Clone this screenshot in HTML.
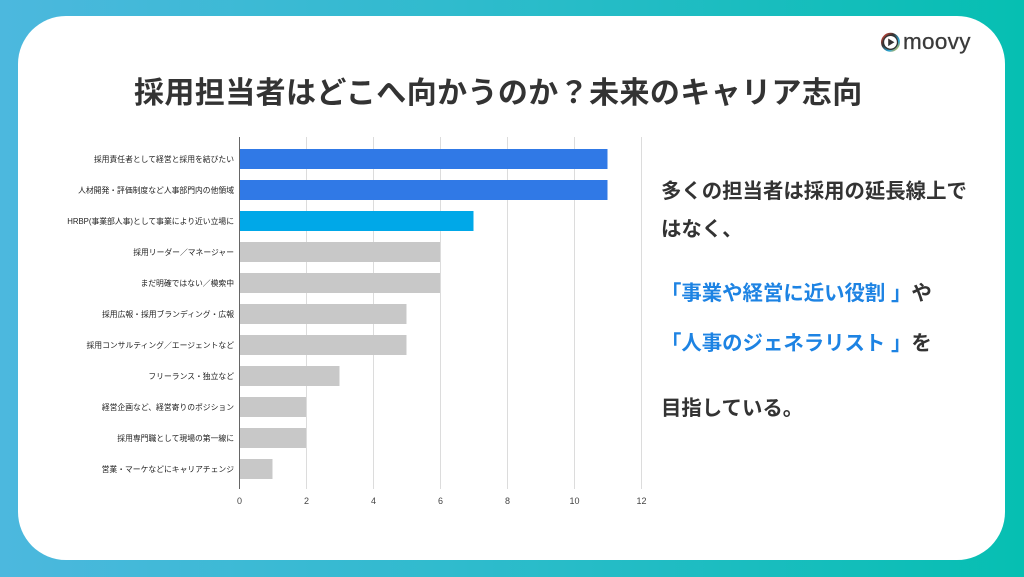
<!DOCTYPE html>
<html>
<head>
<meta charset="utf-8">
<style>
  html, body { margin:0; padding:0; }
  body {
    width:1024px; height:577px; overflow:hidden; position:relative;
    background: linear-gradient(90deg, #4cb8de 0%, #2fbbcd 45%, #06bfb2 100%);
    font-family: "Liberation Sans", "Noto Sans CJK JP", sans-serif;
  }
  .card {
    position:absolute; left:18px; top:16px; width:987px; height:544px;
    background:#fff; border-radius:48px;
  }
  .title {
    position:absolute; left:134px; top:76px; width:740px;
    font-size:30px; line-height:36px; font-weight:bold; color:#333;
    letter-spacing:0.4px; white-space:nowrap;
    font-family: "Liberation Sans", "Noto Sans CJK JP", sans-serif;
  }
  .logo-text {
    position:absolute; left:903px; top:28px; font-size:22.5px; line-height:28px;
    color:#3a3a3a; font-family:"Liberation Sans", sans-serif; letter-spacing:0.3px;
    -webkit-text-stroke:0.3px #3a3a3a;
  }
  .rt {
    position:absolute; left:661px; font-size:20.4px; line-height:22px; font-weight:bold;
    color:#333; white-space:nowrap;
    font-family: "Liberation Sans", "Noto Sans CJK JP", sans-serif;
  }
  .blue { color:#1d83e3; }
  svg { position:absolute; left:0; top:0; }
</style>
</head>
<body>
<div class="card"></div>

<svg width="1024" height="577" viewBox="0 0 1024 577">
  <defs>
    <linearGradient id="ring" x1="0" y1="0" x2="1" y2="1">
      <stop offset="0" stop-color="#e0483a"/>
      <stop offset="0.35" stop-color="#333"/>
      <stop offset="0.7" stop-color="#2aa7d8"/>
      <stop offset="1" stop-color="#e8b630"/>
    </linearGradient>
  </defs>
  <!-- logo icon -->
  <circle cx="890.5" cy="42.3" r="8.3" fill="none" stroke="url(#ring)" stroke-width="2.4"/>
  <circle cx="890.5" cy="42.3" r="7" fill="none" stroke="#333" stroke-width="1.3"/>
  <polygon points="888.2,38.5 888.2,46.1 894.4,42.3" fill="#333"/>

  <!-- gridlines -->
  <g stroke="#dcdcdc" stroke-width="1">
    <line x1="306.5" y1="137" x2="306.5" y2="489"/>
    <line x1="373.5" y1="137" x2="373.5" y2="489"/>
    <line x1="440.5" y1="137" x2="440.5" y2="489"/>
    <line x1="507.5" y1="137" x2="507.5" y2="489"/>
    <line x1="574.5" y1="137" x2="574.5" y2="489"/>
    <line x1="641.5" y1="137" x2="641.5" y2="489"/>
  </g>

  <!-- bars -->
  <g>
    <rect x="239" y="149" width="368.5" height="20" fill="#3079e6"/>
    <rect x="239" y="180" width="368.5" height="20" fill="#3079e6"/>
    <rect x="239" y="211" width="234.5" height="20" fill="#00a8e8"/>
    <rect x="239" y="242" width="201" height="20" fill="#c8c8c8"/>
    <rect x="239" y="273" width="201" height="20" fill="#c8c8c8"/>
    <rect x="239" y="304" width="167.5" height="20" fill="#c8c8c8"/>
    <rect x="239" y="335" width="167.5" height="20" fill="#c8c8c8"/>
    <rect x="239" y="366" width="100.5" height="20" fill="#c8c8c8"/>
    <rect x="239" y="397" width="67" height="20" fill="#c8c8c8"/>
    <rect x="239" y="428" width="67" height="20" fill="#c8c8c8"/>
    <rect x="239" y="459" width="33.5" height="20" fill="#c8c8c8"/>
  </g>

  <!-- axis -->
  <line x1="239.5" y1="137" x2="239.5" y2="489" stroke="#666" stroke-width="1"/>

  <!-- category labels -->
  <g font-family="'Liberation Sans','Noto Sans CJK JP',sans-serif" font-size="7.8" fill="#222" text-anchor="end">
    <text x="234" y="162">採用責任者として経営と採用を結びたい</text>
    <text x="234" y="193">人材開発・評価制度など人事部門内の他領域</text>
    <text x="234" y="224">HRBP(事業部人事)として事業により近い立場に</text>
    <text x="234" y="255">採用リーダー／マネージャー</text>
    <text x="234" y="286">まだ明確ではない／模索中</text>
    <text x="234" y="317">採用広報・採用ブランディング・広報</text>
    <text x="234" y="348">採用コンサルティング／エージェントなど</text>
    <text x="234" y="379">フリーランス・独立など</text>
    <text x="234" y="410">経営企画など、経営寄りのポジション</text>
    <text x="234" y="441">採用専門職として現場の第一線に</text>
    <text x="234" y="472">営業・マーケなどにキャリアチェンジ</text>
  </g>

  <!-- tick labels -->
  <g font-family="'Liberation Sans',sans-serif" font-size="9" fill="#444" text-anchor="middle">
    <text x="239.5" y="504">0</text>
    <text x="306.5" y="504">2</text>
    <text x="373.5" y="504">4</text>
    <text x="440.5" y="504">6</text>
    <text x="507.5" y="504">8</text>
    <text x="574.5" y="504">10</text>
    <text x="641.5" y="504">12</text>
  </g>
</svg>

<div class="logo-text">moovy</div>

<div class="title">採用担当者はどこへ向かうのか？未来のキャリア志向</div>

<div class="rt" style="top:181px;">多くの担当者は採用の延長線上で</div>
<div class="rt" style="top:219px;">はなく、</div>
<div class="rt" style="top:283px;"><span class="blue">「事業や経営に近い役割 」</span>や</div>
<div class="rt" style="top:333px;"><span class="blue">「人事のジェネラリスト 」</span>を</div>
<div class="rt" style="top:398px;">目指している。</div>
</body>
</html>
